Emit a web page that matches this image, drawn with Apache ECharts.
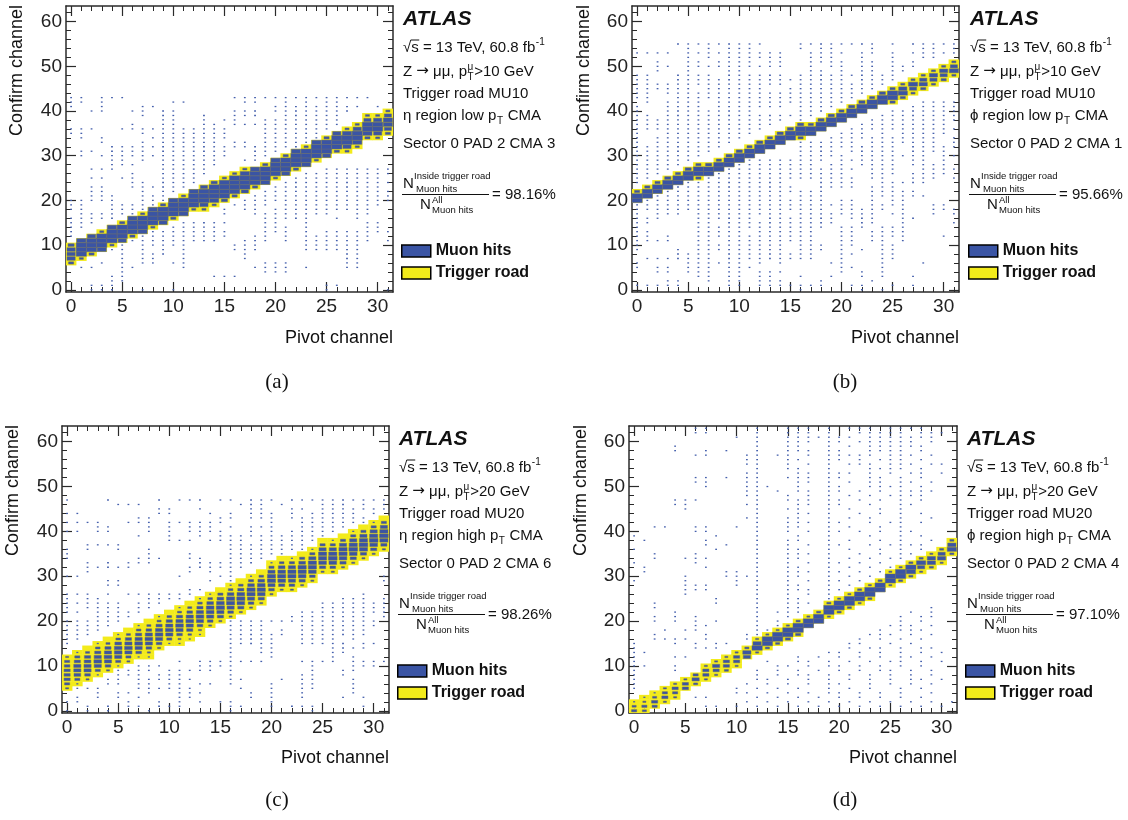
<!DOCTYPE html>
<html><head><meta charset="utf-8">
<script src="https://cdn.jsdelivr.net/npm/echarts@6/dist/echarts.min.js"></script>
<style>html,body{margin:0;padding:0;background:#fff}#c{width:1128px;height:820px}</style>
</head><body><div id="c"></div>
<script>
// ---------------- tick values ----------------
const pivotMajor = [0,5,10,15,20,25,30];
const pivotMinor = [0,1,2,3,4,5,6,7,8,9,10,11,12,13,14,15,16,17,18,19,20,21,22,23,24,25,26,27,28,29,30,31];
const confirmMajor = [0,10,20,30,40,50,60];
const confirmMinor = [0,2,4,6,8,10,12,14,16,18,20,22,24,26,28,30,32,34,36,38,40,42,44,46,48,50,52,54,56,58,60,62];

// ---------------- panel texts ----------------
const panelLabels = ['(a)','(b)','(c)','(d)'];
const ptCut = ['10','10','20','20'];
const roadNames = ['MU10','MU10','MU20','MU20'];
const regionSym = ['\u03B7','\u03D5','\u03B7','\u03D5'];
const ptRegion = ['low','low','high','high'];
const cmaIds = ['3','1','6','4'];
const fractions = ['98.16%','95.66%','98.26%','97.10%'];
const seriesNames = ['Muon hits','Trigger road'];

// ---------------- panel (a) ----------------
const roadLoA = [6,7,8,9,10,11,12,13,14,15,16,17,18,18,19,20,21,22,23,24,25,26,27,28,29,30,31,31,32,34,34,35];
const roadHiA = [10,11,12,13,14,15,16,17,18,19,20,21,22,23,24,25,26,27,27,28,29,30,31,32,33,34,35,36,37,39,39,40];
const bandA = [
 [0.5,0.8,0.8,0.8,0.6],[0.4,1,1,1,0.9],[0.5,1,1,1,0.8],[0.9,1,1,1,0.4],[0.4,1,1,1,0.9],
 [0.8,1,1,1,0.5],[0.5,1,1,1,0.9],[0.9,1,1,1,0.4],[0.4,1,1,1,0.9],[0.8,1,1,1,0.5],
 [0.5,1,1,1,0.9],[0.9,1,1,1,0.4],[0.4,1,1,1,0.9],[0.4,0.8,1,1,1,0.7],[0.4,0.9,1,1,1,0.6],
 [0.6,1,1,1,1,0.4],[0.5,1,1,1,1,0.4],[0.7,1,1,1,0.9,0.4],[0.5,1,1,1,0.9],[0.9,1,1,1,0.5],
 [0.4,1,1,1,0.9],[0.8,1,1,1,0.5],[0.5,1,1,1,0.9],[0.9,1,1,1,0.4],[0.4,1,1,1,0.9],
 [0.8,1,1,1,0.5],[0.5,1,1,1,0.8],[0.4,0.8,1,1,0.9,0.4],[0.4,0.9,1,1,0.8,0.4],[0.5,0.9,1,1,0.7,0.4],
 [0.4,0.8,1,1,0.8,0.4],[0.5,0.7,0.9,0.9,0.7,0.4]
];
const dotsA = [
 [43,[0,1,3,4,5,16,17,18,19,20,21,22,23,24,25,26,27,28,29]],
 [42,[0,1,3,10,11,17,18,21,23,25,26]],
 [41,[0,3,7,8,20,21,22,23,24,25,26,27,28,30]],
 [40,[2,3,6,7,9,10,16,17,18,20,21,22,23,24,25,26,27]],
 [39,[7,9,10,13,16,17,18,21,22,23,24,25,26]],
 [38,[9,10,13,15,16,19,20,21,22,23,24,25,26]],
 [37,[6,9,10,13,14,16,17,18,19,20,21,22,23,24,25,26]],
 [36,[0,1,2,5,6,7,8,9,10,11,12,13,14,15,19,20,21,22,23,24,25]],
 [35,[0,1,7,9,10,11,12,13,14,15,19,20,21,22,23,24]],
 [34,[1,3,8,9,10,11,12,13,14,15,19,20,21,22,23,24]],
 [33,[3,7,9,10,11,12,13,14,16,17,19,20,21,22,23]],
 [32,[4,5,6,7,8,9,10,11,12,13,14,15,16,17,18,19,20,21,22]],
 [31,[1,2,4,5,6,7,9,10,11,12,13,14,15,18,19,20]],
 [30,[1,3,4,5,6,7,8,9,10,11,12,13,14,15,18,19]],
 [29,[4,5,7,9,10,11,12,13,14,17,18]],
 [28,[4,5,6,9,10,11,12,13,14]],
 [27,[2,3,4,9,10,11,12,13,25,26,27,28,29,30,31]],
 [26,[6,9,10,11,12,13,23,24,25,26,27,28,29,30,31]],
 [25,[2,3,5,6,9,10,11,12,22,23,24,25,26,27,28,29,30]],
 [24,[6,7,9,10,11,12,21,22,23,24,25,26,27,28,29,30,31]],
 [23,[2,3,6,7,8,9,10,11,20,21,22,23,24,25,26,27,28,29,30]],
 [22,[2,3,7,9,10,19,20,21,22,23,24,25,26,27,28,29,30,31]],
 [21,[2,3,4,7,8,9,18,19,20,21,22,23,24,25,26,27,28,29,30,31]],
 [20,[0,1,2,3,4,7,8,9,17,18,19,20,21,22,23,24,25,26,27,28,29,30,31]],
 [19,[0,1,4,5,6,7,8,16,17,18,19,21,22,23,24,25,26,27,28,29,30]],
 [18,[0,1,4,5,6,7,8,15,17,18,20,21,22,23,24,25,26,27,28,29]],
 [17,[1,2,3,4,5,6,15,18,19,20,21,22,23,24,25,28,29]],
 [16,[0,1,2,3,4,19,20,21,22,23,26,28]],
 [15,[0,1,2,11,12,13,14,15,19,20,23,29,30]],
 [14,[0,1,10,11,12,13,14,19,20,21,23,29,30]],
 [13,[0,8,9,10,11,12,13,14,15,19,20,21,23,25,26,27,28,29,30,31]],
 [12,[0,7,8,9,10,11,12,13,14,15,18,19,21,23,24,25,26,27,28,29]],
 [11,[6,7,8,9,10,11,12,13,14,17,18,19,21,23,24,25,26,27,28,29,31]],
 [10,[5,7,8,9,10,11,16,17,18,23,24,25,26,27,28]],
 [9,[4,5,7,9,11,16,17,18,23,24,25,26,27,28]],
 [8,[5,7,8,9,11,17,27,28]],
 [7,[5,7,8,11,17,27,28]],
 [6,[3,5,7,8,10,11,19,20,21,27,28]],
 [5,[1,2,5,6,11,18,19,20,21,23,27,28]],
 [4,[5,19,20,21]],
 [3,[4,5,14,15,16]],
 [2,[4,5]],
 [1,[2,3,4,25,26]],
 [0,[2,3,4,7,10,25,31]]
];

// ---------------- panel (b) ----------------
const roadLoB = [20,21,22,23,24,25,25,26,27,28,29,30,31,32,33,34,34,35,36,37,38,39,40,41,42,42,43,44,45,46,47,48];
const roadHiB = [22,23,24,25,26,27,28,28,29,30,31,32,33,34,35,36,37,37,38,39,40,41,42,43,44,45,46,47,48,49,50,51];
const bandB = [
 [1,1,0.5],[1,1,0.5],[0.9,1,0.5],[1,1,0.6],[1,1,0.5],[1,1,0.6],[0.5,1,1,0.5],[1,1,0.6],
 [1,1,0.5],[1,1,0.6],[1,1,0.6],[1,1,0.5],[1,1,0.6],[1,1,0.5],[1,1,0.6],[1,1,0.6],
 [0.5,1,1,0.6],[1,1,0.5],[1,1,0.6],[1,1,0.6],[1,1,0.5],[1,1,0.6],[1,1,0.6],[1,1,0.5],
 [1,1,0.6],[0.5,1,1,0.5],[0.5,0.9,0.8,0.4],[0.4,0.7,0.9,0.4],[0.5,0.8,0.7,0.4],[0.4,0.7,0.8,0.4],[0.5,0.7,0.8,0.4],[0.4,0.9,0.7,0.4]
];
const dotsB = [
 [55,[4,5,6,7,8,9,10,11,12,16,17,18,19,20,21,22,23,25,27,28,29,30,31]],
 [54,[5,7,9,10,11,16,18,19,23,28,29,31]],
 [53,[0,1,2,3,5,6,7,8,9,10,11,12,13,14,17,18,19,20,22,23,25,27,28,29,30,31]],
 [52,[5,7,9,10,11,12,13,14,17,18,19,22,25,28,29]],
 [51,[2,5,6,8,9,10,11,13,14,17,18,19,20,22,23,25,27]],
 [50,[2,3,5,6,7,8,9,10,11,12,13,14,17,19,20,22,23,25,26,27]],
 [49,[2,5,9,10,17,18,20,22,23,25,26]],
 [48,[0,1,4,5,6,7,9,10,11,12,13,14,16,17,18,19,20,21,22,23,24,25]],
 [47,[0,1,4,5,6,7,8,9,10,11,12,13,14,15,16,17,18,19,20,22,23,24,25]],
 [46,[0,1,2,3,4,5,6,7,8,9,10,11,12,13,14,16,17,18,19,20,21,22,23,24]],
 [45,[0,1,2,3,4,5,7,8,9,10,11,12,15,16,17,18,19,20,21,22,23]],
 [44,[0,1,3,4,5,6,7,8,9,10,11,12,13,14,15,16,17,18,19,20,21,22]],
 [43,[0,1,4,5,6,7,8,9,10,11,12,13,14,15,16,17,18,19,20,21]],
 [42,[1,3,4,5,6,8,9,10,11,12,13,14,15,16,17,18,19,20,28,29,30,31]],
 [41,[0,3,4,5,6,8,9,10,11,12,13,14,16,17,18,19,27,28,29,30,31]],
 [40,[0,3,4,5,6,7,8,9,10,11,16,17,18,25,26,27,28,29,30,31]],
 [39,[0,1,3,4,5,6,7,8,9,10,11,12,13,14,15,16,17,24,25,26,27,28,29,30,31]],
 [38,[0,1,2,3,4,5,6,7,8,9,10,11,12,13,14,16,23,24,25,26,27,28,29,30,31]],
 [37,[0,1,2,3,4,5,6,7,8,9,10,11,12,13,22,23,24,25,26,27,28,29,30]],
 [36,[0,1,2,3,4,5,6,7,8,9,10,11,12,21,22,23,24,25,26,27,28,29,30,31]],
 [35,[0,3,4,5,6,7,8,9,10,11,20,21,22,24,26,27,28,29,30]],
 [34,[0,2,3,4,5,6,7,8,9,10,19,20,21,22,23,24,25,26,27,28,29,31]],
 [33,[0,2,3,4,5,6,7,8,9,16,17,18,19,20,21,23,24,25,26,27,28,29,31]],
 [32,[0,1,2,3,4,5,6,7,8,16,17,18,19,20,21,22,23,24,25,27,28,29,30,31]],
 [31,[0,1,2,3,4,5,6,7,16,17,18,19,21,22,23,24,25,27,28,29,30]],
 [30,[0,1,2,3,4,5,6,16,17,18,19,20,22,23,24,25,26,27,28,30,31]],
 [29,[0,1,2,3,4,5,11,12,13,14,15,16,17,18,20,21,22,23,24,25,27,28,30]],
 [28,[0,1,2,3,4,10,11,12,13,14,15,16,17,19,20,22,23,24,25,27,28,29,30]],
 [27,[0,1,2,3,8,9,10,11,12,13,14,15,16,17,18,19,20,21,23,24,25,28,29,30,31]],
 [26,[0,1,2,6,7,8,9,10,11,12,13,14,15,16,17,18,19,20,23,24,25,27,28,29,30]],
 [25,[0,1,5,6,7,8,9,10,11,12,13,14,15,16,17,18,19,20,21,23,24,27,28,29,31]],
 [24,[0,4,5,6,7,8,9,10,11,12,13,14,18,19,20,21,24,25,26,27,28]],
 [23,[3,4,5,6,7,8,9,10,11,12,13,14,15,18,19,20,21,23,24,25]],
 [22,[2,3,4,5,6,7,8,9,10,11,12,13,14,15,16,17,18,23,24,25,26,27]],
 [21,[1,2,3,4,5,6,7,8,9,10,11,12,13,14,16,17,18,23,24,25,26,27,28]],
 [20,[1,2,3,4,5,6,7,8,9,10,11,12,13,14,15,16,17,18,20,21,23,25,26]],
 [19,[0,1,2,3,4,5,6,7,8,9,10,11,12,13,14,15,16,17,18,19,20,21,23,24,25,26,29,30]],
 [18,[0,1,2,3,4,5,6,7,8,9,10,11,12,13,14,15,16,17,18,20,21,22,23,24,26,29,30,31]],
 [17,[0,2,3,4,6,7,8,9,10,11,12,13,14,16,17,18,19,20,21,22,23,25,26,29,31]],
 [16,[0,1,2,6,7,8,9,10,11,13,14,15,16,17,18,19,21,22,23,26,27]],
 [15,[0,1,6,7,9,10,11,12,13,14,15,16,17,18,19,22,23,26,31]],
 [14,[0,6,7,8,9,10,11,12,13,14,15,16,17,18,20,21,22,24,25,26]],
 [13,[0,1,6,7,8,9,10,12,13,14,15,16,17,20,21,23,24,25,26]],
 [12,[0,1,3,6,7,8,9,10,11,12,13,14,15,16,17,20,21,23,24,25,26,30]],
 [11,[0,1,2,3,6,7,9,10,11,12,13,14,15,16,17,20,21,23,24,26]],
 [10,[0,6,7,8,9,10,11,12,13,14,16,17,18,20,21,24,25]],
 [9,[0,4,6,7,8,9,10,11,12,13,14,16,17,18,20,22,24,25]],
 [8,[4,5,6,7,9,10,11,12,13,14,15,16,17,20,21,24,25]],
 [7,[1,2,3,4,5,6,7,9,10,11,12,13,14,15,16,17,20,24,25]],
 [6,[0,5,6,7,8,9,10,12,14,19,20,24,28]],
 [5,[0,2,3,5,6,7,9,10,11,20,21,24]],
 [4,[2,3,5,6,7,9,10,12,13,14,20,22,24]],
 [3,[6,7,9,10,12,13,16,19,22,24,27]],
 [2,[3,4,7,9,10,12,13,14,18,23]],
 [1,[0,1,2,3,4,9,10,12,13,14,15,16,17,18,21,22,25,27]],
 [0,[16,22,24]]
];

// ---------------- panel (c) ----------------
const roadLoC = [5,6,7,8,9,10,11,12,12,14,15,15,16,17,19,20,21,22,23,24,26,27,27,28,29,31,31,32,33,34,35,36];
const roadHiC = [12,13,14,15,16,17,18,19,20,21,22,23,24,25,26,27,28,29,30,31,33,34,34,35,36,38,38,39,40,41,42,43];
const bandC = [
 [0.3,0.5,0.6,0.6,0.6,0.55,0.5,0.3],[0.2,0.5,0.65,0.7,0.7,0.6,0.5,0.2],[0.3,0.55,0.7,0.7,0.65,0.6,0.4,0],
 [0.2,0.5,0.7,0.75,0.7,0.6,0.45,0.2],[0.3,0.55,0.7,0.75,0.7,0.6,0.4,0],[0.2,0.5,0.7,0.75,0.75,0.65,0.45,0.2],
 [0.3,0.5,0.7,0.75,0.7,0.6,0.4,0],[0.2,0.55,0.7,0.75,0.7,0.6,0.45,0.2],[0.2,0.3,0.55,0.7,0.75,0.7,0.55,0.4,0],
 [0.3,0.55,0.7,0.75,0.7,0.6,0.4,0.2],[0.2,0.5,0.7,0.75,0.7,0.6,0.45,0],[0.2,0.3,0.55,0.7,0.75,0.7,0.6,0.4,0.2],
 [0.2,0.35,0.6,0.7,0.75,0.7,0.55,0.4,0],[0.2,0.3,0.55,0.7,0.75,0.7,0.6,0.45,0.2],[0.3,0.55,0.7,0.75,0.75,0.65,0.45,0.2],
 [0.3,0.6,0.7,0.8,0.75,0.65,0.5,0],[0.3,0.55,0.7,0.8,0.8,0.65,0.45,0.2],[0.3,0.6,0.75,0.8,0.75,0.6,0.45,0],
 [0.3,0.55,0.7,0.8,0.8,0.65,0.5,0.2],[0.3,0.6,0.75,0.8,0.75,0.65,0.45,0],[0.3,0.55,0.7,0.8,0.8,0.7,0.5,0.2],
 [0.3,0.6,0.75,0.8,0.75,0.65,0.45,0],[0.3,0.55,0.7,0.8,0.8,0.7,0.5,0.2],[0.3,0.6,0.75,0.8,0.8,0.65,0.5,0],
 [0.3,0.55,0.75,0.8,0.8,0.7,0.5,0.2],[0.3,0.6,0.75,0.8,0.8,0.7,0.5,0],[0.3,0.55,0.75,0.85,0.8,0.7,0.5,0.2],
 [0.3,0.6,0.75,0.8,0.8,0.7,0.5,0],[0.3,0.6,0.75,0.85,0.8,0.7,0.5,0.2],[0.3,0.6,0.8,0.85,0.8,0.7,0.5,0],
 [0.3,0.6,0.75,0.85,0.8,0.7,0.5,0.2],[0.3,0.6,0.8,0.85,0.8,0.7,0.5,0]
];
const dotsC = [
 [47,[0,4,9,11,12,13,15,16,18,19,20,22,23,24,25,26,27,28,29,30,31]],
 [46,[5,6,7,17,18,19,21,25,26,27,29,31]],
 [45,[9,10,13,18,19,22,23,25,26,27,28,29,30,31]],
 [44,[0,1,9,10,14,16,18,19,20,22,24,25,26,27,28,30]],
 [43,[7,8,15,16,18,19,20,22,23,24,25,26,27,28,29]],
 [42,[0,1,2,3,6,7,8,10,11,12,13,14,15,20,23,24,25,26,27,28,29]],
 [41,[3,4,8,10,12,13,14,16,18,19,20,23,24,25,26,27]],
 [40,[0,1,3,4,8,10,12,13,14,15,18,20,22,23,24,25,26]],
 [39,[7,10,13,15,16,17,18,19,20,21,22,23,24,25]],
 [38,[10,11,12,14,15,16,17,19,20,21,22,23,24]],
 [37,[2,3,4,5,16,17,18,19,20,21,22,23]],
 [36,[0,2,5,8,16,17,18,19,20,21,22,23]],
 [35,[0,8,12,16,17,18,19,20,21]],
 [34,[0,7,8,9,12,13,16,17,18,19]],
 [33,[2,4,6,7,8,13,14,15,16,17,18]],
 [32,[2,3,4,5,6,12,13,14,15,16,17]],
 [31,[2,12,14,16]],
 [30,[0,1,11,15,16,31]],
 [29,[4,5,14,16,31]],
 [28,[4,5]],
 [27,[12,13]],
 [26,[0,1,2,4,6,7,8,9,10,11,12,29]],
 [25,[0,2,3,8,9,10,11,27,28,29,31]],
 [24,[0,1,2,3,4,5,7,8,9,25,26,27,28,29,30,31]],
 [23,[0,2,3,4,5,7,8,25,26,27,28,29,30,31]],
 [22,[0,1,3,4,5,6,7,23,24,25,26,27,28,29,30,31]],
 [21,[3,4,5,6,22,23,24,25,26,27,28,29,31]],
 [20,[0,1,2,3,4,5,16,17,18,19,20,21,22,23,24,25,26,27,28,29,30]],
 [19,[0,1,2,3,4,16,17,18,19,23,24,25,26,27,28,29,30]],
 [18,[0,1,2,3,16,17,18,19,21,23,24,25,26,27,28,29]],
 [17,[0,1,2,16,17,18,19,20,21,23,24,25,26,27,28,29]],
 [16,[0,1,16,17,18,19,20,23,24,25,26,28]],
 [15,[0,16,17,18,19,20,23,24,25,26,27,29,30]],
 [14,[16,19,20,26,27,28,29]],
 [13,[16,19,20,26,27]],
 [12,[16,20,26,28]],
 [11,[11,13,14,15,16,17,18,19,23,24,25,26,28,29,30,31]],
 [10,[7,8,9,13,14,15,16,24,28,29,30]],
 [9,[5,6,7,8,10,11,12,13,14,16,24,27,28]],
 [8,[5,6,7,9,10,11,16,23,24,27]],
 [7,[4,5,7,8,9,10,11,12,16,17,21,23,24,28]],
 [6,[4,5,7,8,10,11,13,14,16,20,23,24,28]],
 [5,[1,2,3,7,8,9,10,11,12,17,20,23,24,28]],
 [4,[3,5,6,8,11,12,13,18,20,23,28]],
 [3,[1,3,5,7,11,12,18,20,23,27,29]],
 [2,[0,1,6,9,11,13,15,16,20]],
 [1,[2,4,6,7,9,10,11,16,17,20,22,23,24,29]],
 [0,[0,2,4,8,16,24]]
];

// ---------------- panel (d) ----------------
const roadLoD = [0,0,1,2,3,5,6,7,8,9,10,12,13,14,15,16,17,19,20,21,22,23,24,25,27,28,29,30,31,32,33,35];
const roadHiD = [2,3,4,5,6,7,8,10,11,12,13,14,16,17,18,19,20,21,22,24,25,26,27,28,29,31,32,33,34,35,36,38];
const bandD = [
 [0.5,0.4,0.2],[0.4,0.5,0.3,0.2],[0.5,0.6,0.4,0.2],[0.3,0.6,0.5,0.3],[0.3,0.5,0.6,0.3],[0.6,0.6,0.3],
 [0.4,0.7,0.5],[0.3,0.6,0.6,0.3],[0.3,0.6,0.7,0.3],[0.4,0.6,0.6,0.3],[0.3,0.6,0.6,0.3],[0.7,0.8,0.4],
 [0.3,1,0.8,0.3],[0.4,1,1,0.3],[0.4,1,1,0.3],[0.5,1,1,0.3],[0.5,1,1,0.4],[1,1,0.3],[1,1,0.4],
 [0.3,1,1,0.4],[0.4,1,1,0.3],[0.4,1,1,0.3],[0.3,1,1,0.4],[0.4,1,1,0.3],[1,1,0.4],[0.3,1,1,0.3],
 [0.4,1,1,0.3],[0.4,0.9,1,0.4],[0.3,0.7,0.9,0.4],[0.4,0.8,0.8,0.3],[0.3,0.8,0.7,0.4],[0.4,0.9,0.8,0.4]
];
const dotsD = [
 [63,[6,7,12,15,16,17,19,21,22,23,25,26,27,28]],
 [62,[6,7,12,15,16,17,19,22,23,24,25,26,28,29,30]],
 [61,[10,12,15,16,17,18,19,20,21,23,24,25,26,27,28,29]],
 [60,[12,15,16,17,19,20,22,23,24,25,26,27,29]],
 [59,[4,12,15,16,19,21,23,24,25,26,27,28]],
 [58,[4,7,9,12,15,16,17,19,20,23,24,25,26,28]],
 [57,[6,7,11,12,14,15,17,19,20,21,22,23,25,26,27,29]],
 [56,[11,12,15,16,19,20,22,24,25,26,28]],
 [55,[11,12,15,17,19,21,22,23,25,26,27,29,30]],
 [54,[12,15,16,19,23,24,25,26,28]],
 [53,[11,12,16,17,19,20,21,23,25,27,28,30]],
 [52,[6,7,9,11,12,15,16,17,19,20,23,24,26,28]],
 [51,[6,7,11,12,16,17,19,21,23,24,26,27,29]],
 [50,[7,11,12,13,16,19,20,23,24,25,26,28]],
 [49,[11,12,14,16,17,19,20,22,24,26,27,28,29]],
 [48,[11,12,15,17,19,21,23,25,26,27,28]],
 [47,[4,5,6,12,15,16,17,19,20,22,24,26,28]],
 [46,[4,5,11,12,16,17,19,20,23,26,27]],
 [45,[5,12,15,16,19,21,24,26]],
 [44,[12,16,17,19,22,24,26,28]],
 [43,[11,12,15,16,19,21,23,26,29]],
 [42,[12,15,16,17,19,20,23,25,26,28]],
 [41,[2,3,6,7,10,12,15,16,19,21,24,26]],
 [40,[6,7,12,15,17,19,20,22,24,26,27]],
 [39,[0,8,12,16,19,23,26,28]],
 [38,[1,7,12,15,16,19,21,24,26,29]],
 [37,[7,9,12,15,17,19,20,23,25,26,27,28]],
 [36,[0,8,12,15,16,19,21,24,26,28]],
 [35,[2,6,12,15,16,17,19,22,24,26,27]],
 [34,[2,5,6,7,12,15,16,19,21,23,25,26]],
 [33,[0,6,12,15,17,19,20,22,24,27]],
 [32,[1,7,12,15,16,19,21,23,25]],
 [31,[1,9,10,12,15,16,17,19,20,22,24,25]],
 [30,[5,9,10,11,12,15,16,19,21,23]],
 [29,[0,5,10,12,15,17,19,20,22,24]],
 [28,[5,6,7,10,12,15,16,19,21,23]],
 [27,[5,6,7,12,15,16,17,19,20,22]],
 [26,[5,12,15,17,19,21]],
 [25,[8,12,15,16,19,20]],
 [24,[2,8,12,15,16,17]],
 [23,[2,12,15,16,29]],
 [22,[4,12,14,15,16,27,29]],
 [21,[2,4,6,12,15,26,28,29]],
 [20,[2,4,6,8,12,14,26,28]],
 [19,[6,7,12,14,15,25,26,27,29]],
 [18,[3,5,6,12,13,24,26,27,28]],
 [17,[2,7,11,12,23,24,25,27,29]],
 [16,[2,3,4,5,7,11,22,24,26,28]],
 [15,[0,4,6,8,9,21,22,25,27]],
 [14,[0,6,7,8,21,23,24,26,28,29]],
 [13,[0,1,19,20,22,24,26,28,30]],
 [12,[0,4,5,16,18,20,22,24,26,27,29]],
 [11,[0,13,16,17,19,21,23,25,26,28,30]],
 [10,[0,1,4,14,15,17,19,20,22,24,26,28]],
 [9,[0,4,12,14,16,18,20,22,24,25,27,29]],
 [8,[0,12,14,16,17,19,21,23,25,27,29]],
 [7,[0,12,13,15,17,19,21,23,25,27,28,30]],
 [6,[0,11,13,15,17,19,20,23,25,27,29]],
 [5,[0,10,12,14,16,19,21,23,26,28]],
 [4,[10,11,13,15,17,19,20,22,24,26,29]],
 [3,[6,7,12,14,16,18,20,22,24,26,28]],
 [2,[11,13,15,17,19,21,23,25,27,29,31]],
 [1,[7,8,10,12,14,16,18,20,22,24,26,28,30]]
];

// ---------------- build ----------------
const panelsData = [
  {lo: roadLoA, hi: roadHiA, band: bandA, dots: dotsA},
  {lo: roadLoB, hi: roadHiB, band: bandB, dots: dotsB},
  {lo: roadLoC, hi: roadHiC, band: bandC, dots: dotsC},
  {lo: roadLoD, hi: roadHiD, band: bandD, dots: dotsD}
];
const SINGLE_HIT = 0.17; // relative box size for a bin holding a single hit

const layout = [
  {left:66,  top:6,   w:327, h:286, tx:403, ty:0,   lab:[277,382], yt:[17,5],    xt:[393,338]},
  {left:632, top:6,   w:327, h:286, tx:970, ty:0,   lab:[845,382], yt:[584,5],   xt:[959,338]},
  {left:62,  top:426, w:327, h:287, tx:399, ty:420, lab:[277,800], yt:[13,425],  xt:[389,758]},
  {left:629, top:426, w:328, h:287, tx:967, ty:420, lab:[845,800], yt:[581,425], xt:[957,758]}
];

const FAM = '"Liberation Sans", Arial, Helvetica, sans-serif';
const BLUE = '#3a54a4', DOT = '#4560ad', YELLOW = '#f3eb1b', EDGE = 'rgba(100,104,118,0.7)', AX = '#2a2a2a';

function renderRoad(params, api) {
  const ctr = api.coord([api.value(0), api.value(1)]);
  const sz = api.size([1, 1]);
  return {type: 'rect', shape: {x: ctr[0] - sz[0] / 2 - 0.2, y: ctr[1] - sz[1] / 2 - 0.2, width: sz[0] + 0.4, height: sz[1] + 0.4},
    style: {fill: YELLOW}};
}
function renderHit(params, api) {
  const ctr = api.coord([api.value(0), api.value(1)]);
  const sz = api.size([1, 1]);
  const s = api.value(2);
  let w = sz[0] * s, h = sz[1] * s;
  const small = s < 0.25;
  if (small) { w = Math.max(w, 1.8); h = Math.max(h, 1.3); }
  return {type: 'rect', shape: {x: ctr[0] - w / 2, y: ctr[1] - h / 2, width: w, height: h},
    style: {fill: small ? DOT : BLUE, stroke: small ? null : EDGE, lineWidth: small ? 0 : 0.7}};
}

const grids = [], xAxes = [], yAxes = [], series = [], legends = [], graphics = [];
const ctx = document.createElement('canvas').getContext('2d');
function tw(s, font) { ctx.font = font; return ctx.measureText(s).width; }
function txt(x, y, s, font, align) {
  return {type: 'text', x: x, y: y, silent: true,
    style: {text: s, font: font, fill: '#111', align: align || 'left', verticalAlign: 'middle',
            textAlign: align || 'left', textVerticalAlign: 'middle'}};
}
function seg(x1, y1, x2, y2) {
  return {type: 'line', silent: true, shape: {x1: x1, y1: y1, x2: x2, y2: y2}, style: {stroke: '#111', lineWidth: 1}};
}

function axisPair(gi, isX, pos, major, minor, labels) {
  const range = isX ? {min: -0.5, max: 31.5} : {min: -0.5, max: 63.5};
  const common = {gridIndex: gi, type: 'value', position: pos, splitLine: {show: false}, axisPointer: {show: false}};
  return [
    Object.assign({}, common, range, {
      axisLine: {show: true, onZero: false, lineStyle: {color: AX, width: 1.5}},
      axisTick: {show: true, inside: true, length: 10, customValues: major, lineStyle: {color: AX, width: 1.2}},
      axisLabel: labels ? {show: true, customValues: major, fontSize: 19, color: '#222', fontFamily: FAM, margin: isX ? 5 : 4} : {show: false}
    }),
    Object.assign({}, common, range, {
      axisLine: {show: false, onZero: false},
      axisTick: {show: true, inside: true, length: 5, customValues: minor, lineStyle: {color: AX, width: 1}},
      axisLabel: {show: false}
    })
  ];
}

layout.forEach((L, gi) => {
  grids.push({left: L.left, top: L.top, width: L.w, height: L.h, containLabel: false});
  const xi = xAxes.length, yi = yAxes.length;
  xAxes.push(...axisPair(gi, true, 'bottom', pivotMajor, pivotMinor, true));
  xAxes.push(...axisPair(gi, true, 'top', pivotMajor, pivotMinor, false));
  yAxes.push(...axisPair(gi, false, 'left', confirmMajor, confirmMinor, true));
  yAxes.push(...axisPair(gi, false, 'right', confirmMajor, confirmMinor, false));

  const P = panelsData[gi];
  const road = [], hits = [];
  for (let p = 0; p < 32; p++) {
    for (let c = P.lo[p]; c <= P.hi[p]; c++) {
      road.push([p, c]);
      const s = P.band[p][c - P.lo[p]] || 0;
      if (s > 0) hits.push([p, c, s]);
    }
  }
  P.dots.forEach(([c, ps]) => {
    ps.forEach(p => {
      if (c >= P.lo[p] && c <= P.hi[p]) return;
      hits.push([p, c, SINGLE_HIT]);
    });
  });
  series.push({type: 'custom', name: seriesNames[1], xAxisIndex: xi, yAxisIndex: yi, data: road,
    renderItem: renderRoad, itemStyle: {color: YELLOW}, clip: true, silent: true, z: 2,
    dimensions: ['pivot', 'confirm'], encode: {x: 0, y: 1}});
  series.push({type: 'custom', name: seriesNames[0], xAxisIndex: xi, yAxisIndex: yi, data: hits,
    renderItem: renderHit, itemStyle: {color: BLUE}, clip: true, silent: true, z: 3,
    dimensions: ['pivot', 'confirm', 'size'], encode: {x: 0, y: 1}});

  legends.push({left: L.tx - 2, top: L.ty + 243, orient: 'vertical', icon: 'rect', itemWidth: 29, itemHeight: 12, itemGap: 6,
    data: seriesNames.slice(), selectedMode: false, padding: 0,
    textStyle: {fontSize: 16, fontWeight: 'bold', color: '#111', fontFamily: FAM},
    itemStyle: {borderColor: '#000', borderWidth: 1.5}});

  graphics.push(Object.assign(txt(L.yt[0], L.yt[1], 'Confirm channel', '18px ' + FAM, 'right'), {rotation: Math.PI / 2}));
  graphics.push(txt(L.xt[0], L.xt[1], 'Pivot channel', '18px ' + FAM, 'right'));
  graphics.push(txt(L.lab[0], L.lab[1], panelLabels[gi], '21px "Liberation Serif", "Times New Roman", serif', 'center'));

  const x0 = L.tx, y0 = L.ty;
  const F15 = '15px ' + FAM, F10 = '10px ' + FAM, F9 = '9.5px ' + FAM;
  graphics.push(txt(x0, y0 + 19.5, 'ATLAS', 'italic bold 21px ' + FAM));
  const l2 = '\u221As = 13 TeV, 60.8 fb';
  graphics.push(txt(x0, y0 + 47.5, l2, F15));
  graphics.push(txt(x0 + tw(l2, F15) + 0.5, y0 + 42, '-1', F10));
  graphics.push(seg(x0 + tw('\u221A', F15) - 0.5, y0 + 40, x0 + tw('\u221As', F15) + 0.5, y0 + 40));
  const l3a = 'Z ', arrow = '\u2192', l3b = ' \u03BC\u03BC, p';
  const FA = '15px "DejaVu Sans", ' + FAM;
  const wa = tw(l3a, F15), wArr = tw(arrow, FA);
  graphics.push(txt(x0, y0 + 72, l3a, F15));
  graphics.push(txt(x0 + wa, y0 + 71.5, arrow, FA));
  graphics.push(txt(x0 + wa + wArr, y0 + 72, l3b, F15));
  const w3 = wa + wArr + tw(l3b, F15);
  graphics.push(txt(x0 + w3 + 0.5, y0 + 67.5, '\u03BC', F10));
  graphics.push(txt(x0 + w3 + 0.5, y0 + 77.5, 'T', F10));
  graphics.push(txt(x0 + w3 + 1 + Math.max(tw('\u03BC', F10), tw('T', F10)), y0 + 72, '>' + ptCut[gi] + ' GeV', F15));
  graphics.push(txt(x0, y0 + 93.5, 'Trigger road ' + roadNames[gi], F15));
  const l5 = regionSym[gi] + ' region ' + ptRegion[gi] + ' p';
  const w5 = tw(l5, F15);
  graphics.push(txt(x0, y0 + 115.5, l5, F15));
  graphics.push(txt(x0 + w5 + 0.5, y0 + 121, 'T', F10));
  graphics.push(txt(x0 + w5 + 1 + tw('T', F10), y0 + 115.5, ' CMA', F15));
  graphics.push(txt(x0, y0 + 144, 'Sector 0 PAD 2 CMA ' + cmaIds[gi], F15));
  graphics.push(txt(x0, y0 + 184, 'N', F15));
  graphics.push(txt(x0 + 11, y0 + 176, 'Inside trigger road', F9));
  graphics.push(txt(x0 + 13, y0 + 189.5, 'Muon hits', F9));
  graphics.push(seg(x0 - 1, y0 + 194.5, x0 + 86, y0 + 194.5));
  graphics.push(txt(x0 + 89, y0 + 194.5, '= ' + fractions[gi], F15));
  graphics.push(txt(x0 + 17, y0 + 204.5, 'N', F15));
  graphics.push(txt(x0 + 29, y0 + 200, 'All', F9));
  graphics.push(txt(x0 + 29, y0 + 210.5, 'Muon hits', F9));
});

const chart = echarts.init(document.getElementById('c'), null, {renderer: 'canvas'});
chart.setOption({
  backgroundColor: '#fff',
  animation: false,
  grid: grids,
  xAxis: xAxes,
  yAxis: yAxes,
  legend: legends,
  series: series,
  graphic: {elements: graphics}
});
</script>
</body></html>
